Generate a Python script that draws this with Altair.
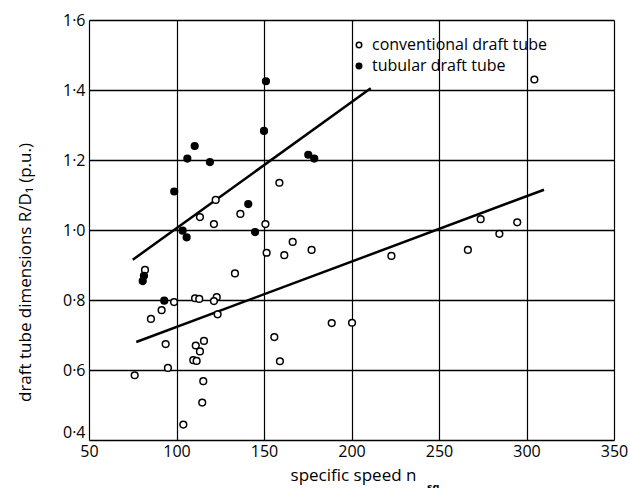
import altair as alt
import pandas as pd

# conventional draft tube (open circles)
conv_x = [122.4, 113.4, 136.5, 121.4, 82.0, 133.4, 110.6, 113.0, 123.0, 121.4,
          98.6, 91.5, 85.4, 123.5, 93.8, 111.0, 115.7, 113.4, 109.6, 111.5,
          76.1, 95.1, 115.3, 114.7, 103.9, 158.8, 150.8, 151.5, 161.6, 166.4,
          177.2, 222.8, 266.5, 188.7, 200.3, 155.9, 159.1, 304.5, 273.8, 294.7,
          284.5]
conv_y = [1.086, 1.037, 1.046, 1.017, 0.886, 0.876, 0.805, 0.803, 0.808, 0.797,
          0.794, 0.771, 0.746, 0.759, 0.674, 0.670, 0.683, 0.653, 0.628, 0.626,
          0.585, 0.606, 0.568, 0.507, 0.444, 1.135, 1.017, 0.935, 0.928, 0.966,
          0.943, 0.926, 0.943, 0.734, 0.735, 0.694, 0.625, 1.430, 1.031, 1.022,
          0.989]
# tubular draft tube (filled dots)
tub_x = [98.7, 106.2, 110.4, 119.1, 141.0, 144.9, 103.5, 105.8, 80.7, 81.4,
         93.0, 151.1, 150.0, 175.3, 178.7]
tub_y = [1.110, 1.204, 1.240, 1.194, 1.074, 0.994, 0.998, 0.979, 0.854, 0.869,
         0.798, 1.425, 1.283, 1.215, 1.204]

# trend lines (end points)
conv_line_x = [77, 310]
conv_line_y = [0.680, 1.115]
tub_line_x = [75, 211]
tub_line_y = [0.915, 1.405]

series = ["conventional draft tube", "tubular draft tube"]
x_ticks = [50, 100, 150, 200, 250, 300, 350]
y_ticks = [0.4, 0.6, 0.8, 1.0, 1.2, 1.4, 1.6]

pts = pd.DataFrame({
    "x": conv_x + tub_x,
    "y": conv_y + tub_y,
    "s": [series[0]] * len(conv_x) + [series[1]] * len(tub_x),
})
lines = pd.DataFrame({
    "x": conv_line_x + tub_line_x,
    "y": conv_line_y + tub_line_y,
    "s": [series[0]] * 2 + [series[1]] * 2,
})

FONT = "Open Sans"
xs = alt.Scale(domain=[50, 350], nice=False, zero=False)
ys = alt.Scale(domain=[0.4, 1.6], nice=False, zero=False)

xaxis = alt.Axis(values=x_ticks, title="specific speed n", grid=True,
                 gridColor="black", gridWidth=1.2, ticks=False, domain=False,
                 labelFontSize=16, labelFont=FONT, labelColor="black",
                 labelPadding=3, labelFlush=False, labelOverlap=False,
                 titleFont=FONT, titleFontSize=17, titleFontWeight="normal",
                 titleColor="black", titleX=264, titleY=27)
yaxis = alt.Axis(values=y_ticks,
                 labelExpr="replace(format(datum.value, '.1f'), '.', '·')",
                 labelBaseline={"condition": {"test": "datum.value < 0.5", "value": "bottom"},
                                "value": "middle"},
                 title="draft tube dimensions R/D\u2081  (p.u.)", grid=True,
                 gridColor="black", gridWidth=1.5, ticks=False, domain=False,
                 labelFontSize=16, labelFont=FONT, labelColor="black",
                 labelPadding=4, labelOverlap=False,
                 titleFont=FONT, titleFontSize=17, titleFontWeight="normal",
                 titleColor="black", titleX=-55, titleY=252)

line_layer = alt.Chart(lines).mark_line(color="black", strokeWidth=2.5).encode(
    x=alt.X("x:Q", scale=xs, axis=xaxis),
    y=alt.Y("y:Q", scale=ys, axis=yaxis),
    detail="s:N",
)

point_layer = alt.Chart(pts).mark_point(
    filled=True, shape="circle", size=45, stroke="black", strokeWidth=1.5, opacity=1
).encode(
    x=alt.X("x:Q", scale=xs),
    y=alt.Y("y:Q", scale=ys),
    fill=alt.Fill("s:N", scale=alt.Scale(domain=series, range=["white", "black"]),
                  legend=alt.Legend(orient="none", legendX=262, legendY=17,
                                    title=None, symbolType="circle", symbolSize=30,
                                    symbolStrokeColor="black", symbolStrokeWidth=1.5,
                                    labelFont=FONT, labelFontSize=16,
                                    labelColor="black", labelOffset=5,
                                    rowPadding=5, labelLimit=300)),
)

sub = alt.Chart(pd.DataFrame({"t": ["sq"]})).mark_text(
    font=FONT, fontSize=11, fontWeight="bold", color="black", baseline="top",
    align="left"
).encode(text="t:N", x=alt.value(338), y=alt.value(462))

chart = alt.layer(line_layer, point_layer, sub).properties(
    width=525, height=420,
    padding={"left": 89, "top": 20, "right": 16, "bottom": 48},
    autosize=alt.AutoSizeParams(type="none"),
).configure_view(stroke="black", strokeWidth=2).configure(background="white")

chart.save("out.html", embed_options={"renderer": "svg", "actions": False})
